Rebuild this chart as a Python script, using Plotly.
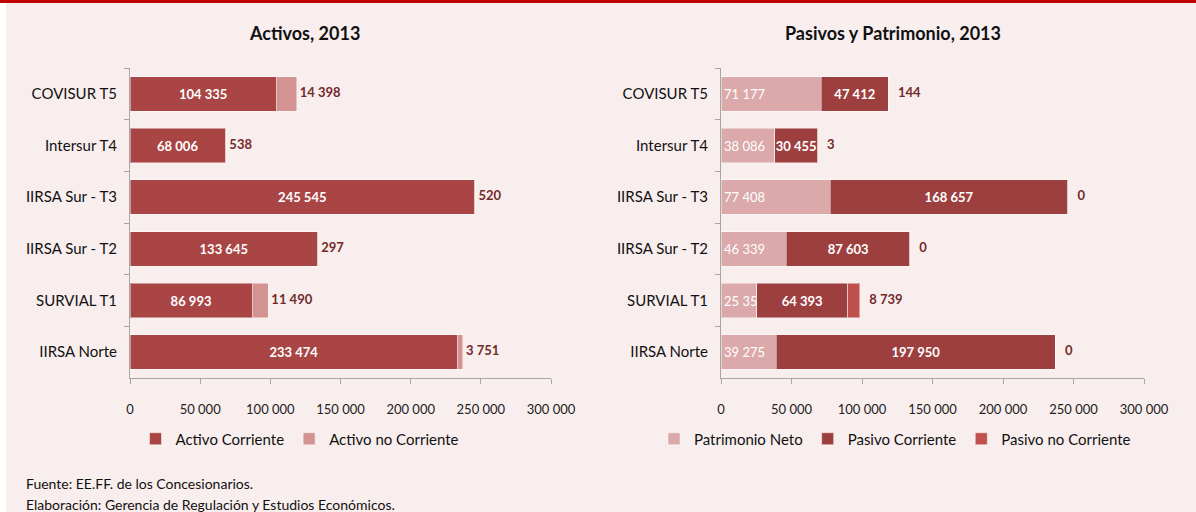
import plotly.graph_objects as go

W, H = 1196, 512

categories = ["COVISUR T5", "Intersur T4", "IIRSA Sur - T3", "IIRSA Sur - T2", "SURVIAL T1", "IIRSA Norte"]
activo_corriente = [104335, 68006, 245545, 133645, 86993, 233474]
activo_no_corriente = [14398, 538, 520, 297, 11490, 3751]
patrimonio_neto = [71177, 38086, 77408, 46339, 25351, 39275]
pasivo_corriente = [47412, 30455, 168657, 87603, 64393, 197950]
pasivo_no_corriente = [144, 3, 0, 0, 8739, 0]
x_ticks = [0, 50000, 100000, 150000, 200000, 250000, 300000]
x_ticktext = ["0", "50 000", "100 000", "150 000", "200 000", "250 000", "300 000"]

FONT = "Lato"
BG = "#F9EEEE"
C_AC = "#A94545"
C_ANC = "#D49393"
C_PN = "#DBA9A9"
C_PC = "#9E3F3F"
C_PNC = "#C0504D"
C_LBL = "#74292B"
AXIS = "#A6A6A6"


def fmt(v):
    return f"{v:,}".replace(",", " ")


def fx(px):
    return px / W


def fy(py):
    return 1 - py / H


fig = go.Figure()
edge = dict(color="rgba(255,255,255,0.45)", width=1)

# Left chart
fig.add_trace(go.Bar(
    y=categories, x=activo_corriente, orientation="h", name="Activo Corriente",
    marker=dict(color=C_AC, line=edge), xaxis="x", yaxis="y", legend="legend",
    text=[fmt(v) for v in activo_corriente], textposition="inside", insidetextanchor="middle",
    textangle=0, constraintext="none",
    textfont=dict(family=FONT, size=13, color="white", weight="bold"), hoverinfo="skip"))
fig.add_trace(go.Bar(
    y=categories, x=activo_no_corriente, orientation="h", name="Activo no Corriente",
    marker=dict(color=C_ANC, line=edge), xaxis="x", yaxis="y", legend="legend",
    hoverinfo="skip"))
fig.add_trace(go.Scatter(
    y=categories, x=[a + b for a, b in zip(activo_corriente, activo_no_corriente)],
    mode="text", text=[" " + fmt(v) for v in activo_no_corriente], textposition="middle right",
    textfont=dict(family=FONT, size=13, color=C_LBL, weight="bold"),
    xaxis="x", yaxis="y", showlegend=False, hoverinfo="skip", cliponaxis=False))

# Right chart
fig.add_trace(go.Bar(
    y=categories, x=patrimonio_neto, orientation="h", name="Patrimonio Neto",
    marker=dict(color=C_PN, line=edge), xaxis="x2", yaxis="y2", legend="legend2",
    text=[fmt(v) for v in patrimonio_neto], textposition="inside", insidetextanchor="start",
    textangle=0, constraintext="none",
    textfont=dict(family=FONT, size=13, color="white"), hoverinfo="skip"))
fig.add_trace(go.Bar(
    y=categories, x=pasivo_corriente, orientation="h", name="Pasivo Corriente",
    marker=dict(color=C_PC, line=edge), xaxis="x2", yaxis="y2", legend="legend2",
    text=[fmt(v) for v in pasivo_corriente], textposition="inside", insidetextanchor="middle",
    textangle=0, constraintext="none",
    textfont=dict(family=FONT, size=13, color="white", weight="bold"), hoverinfo="skip"))
fig.add_trace(go.Bar(
    y=categories, x=pasivo_no_corriente, orientation="h", name="Pasivo no Corriente",
    marker=dict(color=C_PNC, line=edge), xaxis="x2", yaxis="y2", legend="legend2",
    hoverinfo="skip"))
fig.add_trace(go.Scatter(
    y=categories,
    x=[a + b + c for a, b, c in zip(patrimonio_neto, pasivo_corriente, pasivo_no_corriente)],
    mode="text", text=["   " + fmt(v) for v in pasivo_no_corriente], textposition="middle right",
    textfont=dict(family=FONT, size=13, color=C_LBL, weight="bold"),
    xaxis="x2", yaxis="y2", showlegend=False, hoverinfo="skip", cliponaxis=False))

ydom = [fy(378), fy(68)]
xaxis_common = dict(
    range=[0, 300000], tickvals=x_ticks, ticktext=x_ticktext, showgrid=False, zeroline=False,
    showline=True, linecolor=AXIS, linewidth=1, ticks="outside", ticklen=5, tickcolor=AXIS,
    ticklabelstandoff=14, tickfont=dict(family=FONT, size=13, color="#222222"),
    fixedrange=True, automargin=False)
yaxis_common = dict(
    range=[5.5, -0.5], showgrid=False, zeroline=False, showline=True, linecolor=AXIS, linewidth=1,
    ticks="outside", tickson="boundaries", ticklen=5, tickcolor=AXIS, domain=ydom,
    tickfont=dict(family=FONT, size=15, color="#111111"), ticklabelstandoff=9,
    fixedrange=True, automargin=False)

legend_common = dict(orientation="h", xanchor="center", y=fy(439), yanchor="middle",
                     font=dict(family=FONT, size=15, color="#111111"), bgcolor="rgba(0,0,0,0)",
                     itemwidth=30, traceorder="normal")

fig.update_layout(
    width=W, height=H, margin=dict(l=0, r=0, t=0, b=0, autoexpand=False),
    paper_bgcolor=BG, plot_bgcolor=BG, barmode="stack", bargap=0.33,
    font=dict(family=FONT, color="#111111"),
    xaxis=dict(domain=[fx(130), fx(551)], anchor="y", **xaxis_common),
    yaxis=dict(anchor="x", **yaxis_common),
    xaxis2=dict(domain=[fx(721), fx(1144)], anchor="y2", **xaxis_common),
    yaxis2=dict(anchor="x2", **yaxis_common),
    legend=dict(x=fx(300), **legend_common),
    legend2=dict(x=fx(895), **legend_common),
    shapes=[
        dict(type="rect", xref="paper", yref="paper", x0=0, x1=1, y0=fy(3), y1=1,
             fillcolor="#C00000", line=dict(width=0), layer="above"),
        dict(type="rect", xref="paper", yref="paper", x0=0, x1=fx(6), y0=0, y1=fy(3),
             fillcolor="white", line=dict(width=0), layer="below"),
    ],
    annotations=[
        dict(text="<b>Activos, 2013</b>", x=fx(304), y=fy(33), xref="paper", yref="paper",
             showarrow=False, xanchor="center", yanchor="middle",
             font=dict(family=FONT, size=18, color="#111111")),
        dict(text="<b>Pasivos y Patrimonio, 2013</b>", x=fx(893), y=fy(33), xref="paper", yref="paper",
             showarrow=False, xanchor="center", yanchor="middle",
             font=dict(family=FONT, size=18, color="#111111")),
        dict(text="Fuente: EE.FF. de los Concesionarios.", x=fx(24), y=fy(483), xref="paper",
             yref="paper", showarrow=False, xanchor="left", yanchor="middle",
             font=dict(family=FONT, size=14, color="#111111")),
        dict(text="Elaboración: Gerencia de Regulación y Estudios Económicos.", x=fx(24), y=fy(504),
             xref="paper", yref="paper", showarrow=False, xanchor="left", yanchor="middle",
             font=dict(family=FONT, size=14, color="#111111")),
    ],
)

fig.write_html("out.html", config={"displayModeBar": False},
               post_script="document.body.style.margin='0';document.body.style.overflow='hidden';")
